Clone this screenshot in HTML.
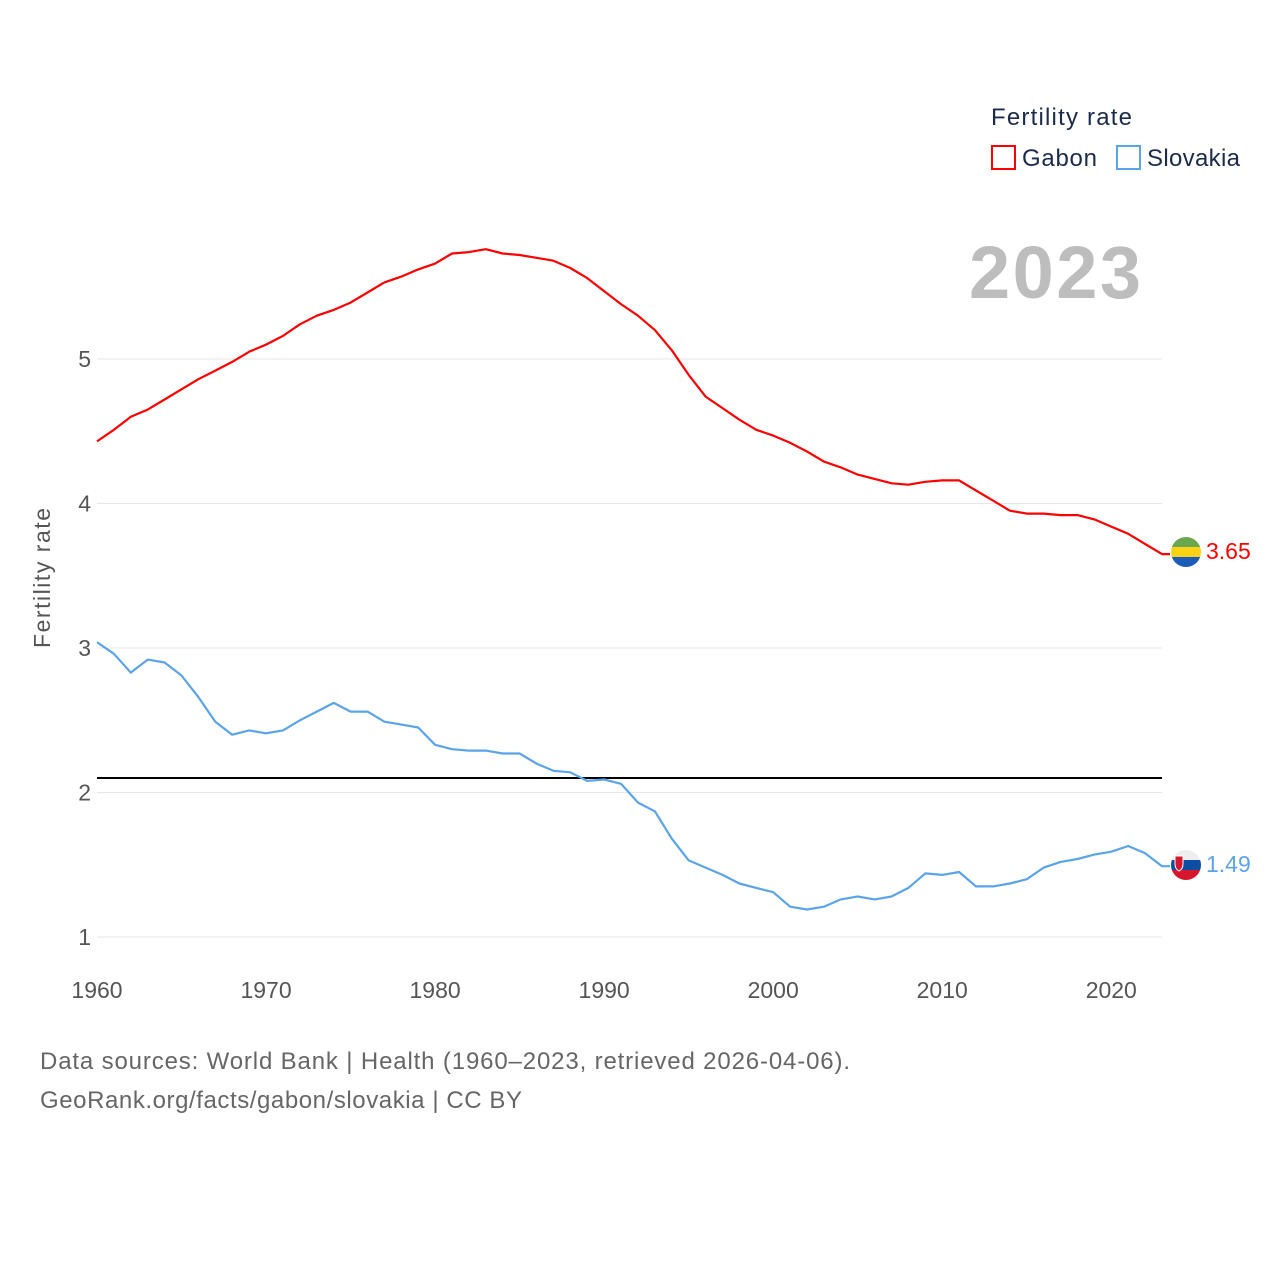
<!DOCTYPE html>
<html><head><meta charset="utf-8"><style>
body{margin:0;background:#fff;font-family:"Liberation Sans",sans-serif}
svg text{font-family:"Liberation Sans",sans-serif}
</style></head><body>
<svg width="1280" height="1280" viewBox="0 0 1280 1280">
<g id="grid"></g>
<g id="series"></g>
<text x="50" y="578" transform="rotate(-90 50 578)" text-anchor="middle" font-size="23" fill="#555" textLength="140">Fertility rate</text>
<text x="969" y="298" font-size="74" font-weight="bold" fill="#bdbdbd" textLength="172">2023</text>
<g>
<text x="991" y="125" font-size="24" fill="#1c2b4a" textLength="141">Fertility rate</text>
<g><rect x="992" y="146" width="23" height="23" fill="none" stroke="#f00" stroke-width="2"/><text x="1022" y="166" font-size="24" fill="#1c2b4a" textLength="75">Gabon</text></g>
<g><rect x="1117" y="146" width="23" height="23" fill="none" stroke="#5ba4ea" stroke-width="2"/><text x="1147" y="166" font-size="24" fill="#1c2b4a" textLength="93">Slovakia</text></g>
</g>
<defs>
<clipPath id="c1"><circle cx="1186" cy="552" r="15"/></clipPath>
<clipPath id="c2"><circle cx="1186" cy="865" r="15"/></clipPath>
</defs>
<g clip-path="url(#c1)"><rect x="1170" y="536" width="32" height="11" fill="#6aa84f"/><rect x="1170" y="547" width="32" height="10" fill="#fcd116"/><rect x="1170" y="557" width="32" height="11" fill="#1d5bb8"/></g>
<text x="1206" y="559" font-size="23" fill="#f00">3.65</text>
<g clip-path="url(#c2)"><rect x="1170" y="849" width="32" height="11" fill="#eee"/><rect x="1170" y="860" width="32" height="10" fill="#0b4ea2"/><rect x="1170" y="870" width="32" height="11" fill="#d6162c"/><path d="M1175 856h8v8q0 5-4 7q-4-2-4-7z" fill="#d6162c" stroke="#fff" stroke-width="1"/></g>
<text x="1206" y="872" font-size="23" fill="#5ba4ea">1.49</text>
<text x="40" y="1069" font-size="24" fill="#666" textLength="810">Data sources: World Bank | Health (1960–2023, retrieved 2026-04-06).</text>
<text x="40" y="1108" font-size="24" fill="#666" textLength="482">GeoRank.org/facts/gabon/slovakia | CC BY</text>
</svg>
<script>
const years=[];for(let y=1960;y<=2023;y++)years.push(y);
const gabon=[4.43,4.51,4.60,4.65,4.72,4.79,4.86,4.92,4.98,5.05,5.10,5.16,5.24,5.30,5.34,5.39,5.46,5.53,5.57,5.62,5.66,5.73,5.74,5.76,5.73,5.72,5.70,5.68,5.63,5.56,5.47,5.38,5.30,5.20,5.06,4.89,4.74,4.66,4.58,4.51,4.47,4.42,4.36,4.29,4.25,4.20,4.17,4.14,4.13,4.15,4.16,4.16,4.09,4.02,3.95,3.93,3.93,3.92,3.92,3.89,3.84,3.79,3.72,3.65];
const slovakia=[3.04,2.96,2.83,2.92,2.90,2.81,2.66,2.49,2.40,2.43,2.41,2.43,2.50,2.56,2.62,2.56,2.56,2.49,2.47,2.45,2.33,2.30,2.29,2.29,2.27,2.27,2.20,2.15,2.14,2.08,2.09,2.06,1.93,1.87,1.68,1.53,1.48,1.43,1.37,1.34,1.31,1.21,1.19,1.21,1.26,1.28,1.26,1.28,1.34,1.44,1.43,1.45,1.35,1.35,1.37,1.40,1.48,1.52,1.54,1.57,1.59,1.63,1.58,1.49];
const yTicks=[1,2,3,4,5];
const xTicks=[1960,1970,1980,1990,2000,2010,2020];
const replacement=2.1;
const NS="http://www.w3.org/2000/svg";
const xs=y=>97+(y-1960)*(1162-97)/63;
const ys=v=>359+(5-v)*144.5;
const grid=document.getElementById('grid'),ser=document.getElementById('series');
function mk(tag,attrs,parent){const e=document.createElementNS(NS,tag);for(const k in attrs)e.setAttribute(k,attrs[k]);parent.appendChild(e);return e;}
yTicks.forEach(t=>{
 const l=mk('line',{x1:97,x2:1162,y1:ys(t),y2:ys(t),stroke:'#e6e6e6','stroke-width':1},grid);
 
 
 const tx=mk('text',{x:91,y:ys(t)+8,'text-anchor':'end','font-size':23,fill:'#555'},grid);
 tx.textContent=t;
 
 
});
xTicks.forEach(t=>{
 const tx=mk('text',{x:xs(t),y:998,'text-anchor':'middle','font-size':23,fill:'#555'},grid);
 tx.textContent=t;
 
 
});
const rl=mk('line',{x1:97,x2:1162,y1:ys(replacement),y2:ys(replacement),stroke:'#000','stroke-width':2},ser);


function line(vals,color,name){
 let d=vals.map((v,i)=>(i?'L':'M')+xs(years[i]).toFixed(1)+' '+ys(v).toFixed(1)).join('');
 d+='h8';
 const p=mk('path',{d:d,fill:'none',stroke:color,'stroke-width':2.2,'stroke-linejoin':'round'},ser);
 
 
}
line(gabon,'#f00','gabon-line');
line(slovakia,'#5ba4ea','slovakia-line');
</script>
</body></html>
